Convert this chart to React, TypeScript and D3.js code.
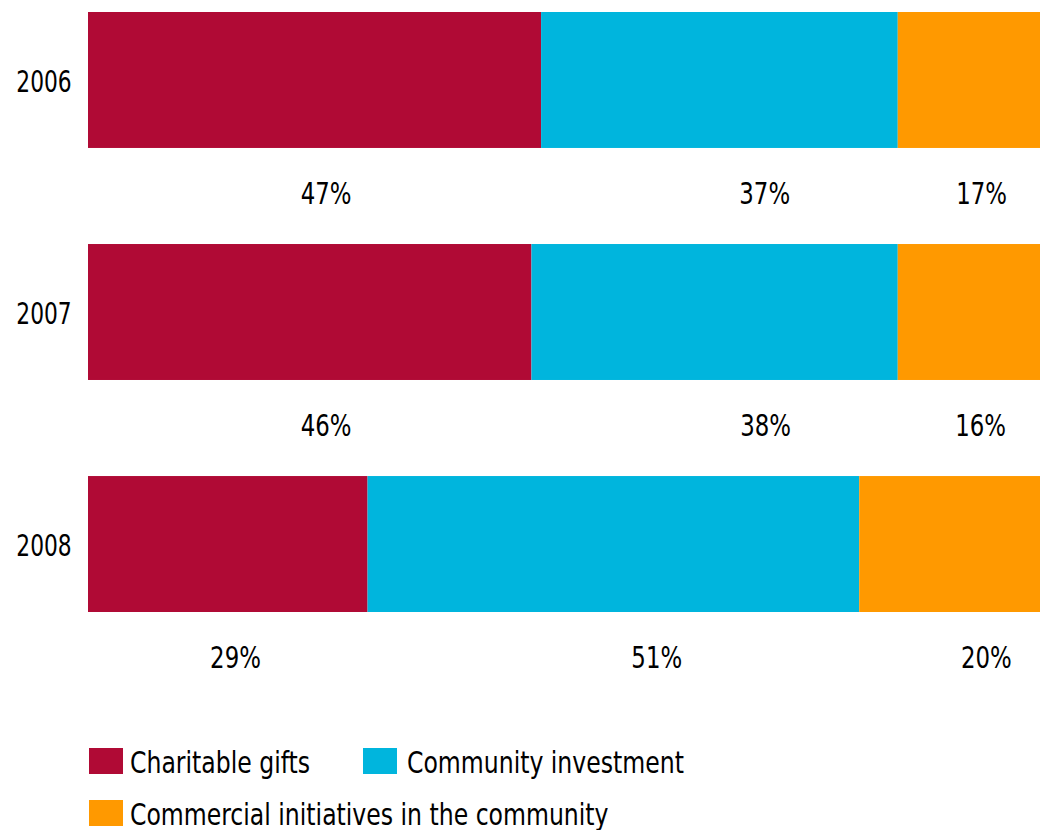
import React from "react";
import * as d3 from "d3";

const years = ["2006", "2007", "2008"];
const seriesNames = ["Charitable gifts", "Community investment", "Commercial initiatives in the community"];
const charitable = [47, 46, 29];
const community = [37, 38, 51];
const commercial = [17, 16, 20];
// where each percentage label sits, in percent units along the bar
const labelAnchors = [
  [24.7, 70.2, 92.7],
  [24.7, 70.3, 92.6],
  [15.3, 59.0, 93.2],
];
const colors = ["#B00A35", "#00B5DD", "#FF9900"];

const W = 1040;
const H = 830;
const FONT = "'DejaVu Sans Condensed', 'DejaVu Sans', sans-serif";

function T({ x, y, anchor = "start", sx = 0.82, size = 31, children }: any) {
  return (
    <text
      transform={`translate(${x},${y}) scale(${sx},1)`}
      textAnchor={anchor}
      dominantBaseline="central"
      fontFamily={FONT}
      fontSize={size}
      fill="#000"
    >
      {children}
    </text>
  );
}

export default function App() {
  const x = d3.scaleLinear().domain([0, 100]).range([88, 1052]);
  const y = d3.scaleBand().domain(years).range([12, 612]).paddingInner(0.414).paddingOuter(0);
  const series = [charitable, community, commercial];
  const stackData = years.map((yr, i) => ({ year: yr, a: charitable[i], b: community[i], c: commercial[i] }));
  const stacked = d3.stack<any>().keys(["a", "b", "c"])(stackData);

  const legend = [
    { sq: 89, tx: 130, y: 748 },
    { sq: 363, tx: 407, y: 748 },
    { sq: 89, tx: 130, y: 800 },
  ];

  return (
    <svg width={W} height={H} style={{ position: "absolute", left: 0, top: 0, background: "#fff" }}>
      {stacked.map((layer, si) => (
        <g key={si} fill={colors[si]}>
          {layer.map((d, i) => (
            <rect
              key={i}
              x={x(d[0])}
              y={y(years[i])}
              width={x(d[1]) - x(d[0])}
              height={y.bandwidth()}
            />
          ))}
        </g>
      ))}
      {years.map((yr) => (
        <T key={yr} x={44} y={(y(yr) as number) + y.bandwidth() / 2 + 1} anchor="middle" sx={0.78}>
          {yr}
        </T>
      ))}
      {years.map((yr, i) =>
        series.map((s, si) => (
          <T
            key={yr + si}
            x={x(labelAnchors[i][si])}
            y={(y(yr) as number) + y.bandwidth() + 46}
            anchor="middle"
          >
            {s[i]}%
          </T>
        ))
      )}
      {seriesNames.map((name, i) => (
        <g key={name}>
          <rect x={legend[i].sq} y={legend[i].y} width={34} height={26} fill={colors[i]} />
          <T x={legend[i].tx} y={legend[i].y + 14} sx={0.845}>{name}</T>
        </g>
      ))}
    </svg>
  );
}
